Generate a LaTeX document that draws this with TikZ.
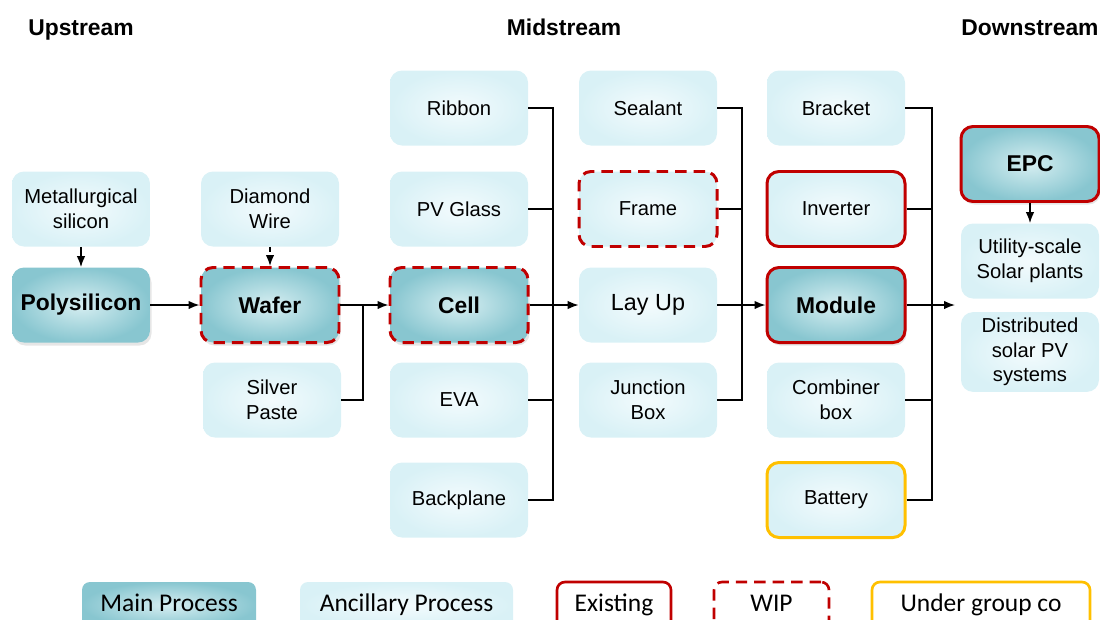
\documentclass[tikz,border=0pt]{standalone}
\usepackage{fontspec}
\setmainfont{Liberation Sans}
\newfontfamily\legendfont{Carlito}
\usetikzlibrary{arrows.meta,shadows}
\definecolor{redc}{HTML}{C00000}
\definecolor{yelc}{HTML}{FFC000}
\definecolor{mainout}{HTML}{88C6D0}
\definecolor{mainin}{HTML}{D6EEF1}
\definecolor{ancout}{HTML}{D9F1F6}
\definecolor{ancin}{HTML}{F3FBFD}

\begin{document}
\begin{tikzpicture}[font=\fontsize{11.5}{14}\selectfont]
\tikzstyle{op}=[->,>={Latex[length=0.22cm,width=0.17cm]},line width=0.85pt]
\tikzstyle{line}=[line width=0.85pt]
\tikzstyle{anc}=[rounded corners=0.24cm,minimum width=2.76cm,minimum height=1.5cm,align=center,inner color=ancin,outer color=ancout]
\tikzstyle{mainfill}=[inner color=mainin,outer color=mainout]
\tikzstyle{main}=[anc,mainfill,font=\fontsize{13}{16}\selectfont\bfseries,drop shadow={opacity=0.2,shadow xshift=0.03cm,shadow yshift=-0.06cm}]
\tikzstyle{exist}=[draw=redc,line width=1.7pt]
\tikzstyle{wip}=[exist,dash pattern=on 6.5pt off 4pt]
\tikzstyle{under}=[draw=yelc,line width=1.7pt]
\tikzstyle{head}=[font=\fontsize{13}{16}\selectfont\bfseries,text height=0.33cm,text depth=0.1cm]
\tikzstyle{legend}=[rounded corners=0.16cm,minimum height=0.92cm,text height=0.36cm,text depth=0.1cm,font=\legendfont\fontsize{14.5}{17}\selectfont]
\path[use as bounding box,clip] (0,0) rectangle (22,-12.38);

\node (h1) at (1.62,-0.6) [head]{Upstream};
\node (h2) at (11.28,-0.6) [head]{Midstream};
\node (h3) at (20.6,-0.6) [head]{Downstream};

\node (1) at (1.62,-4.18) [anc]{Metallurgical\\silicon};
\node (2) at (1.62,-6.1) [main]{Polysilicon};
\node (3) at (5.4,-4.18) [anc]{Diamond\\Wire};
\node (4) at (5.4,-6.1) [main,wip]{Wafer};
\node (5) at (5.44,-8.0) [anc]{Silver\\Paste};

\node (6) at (9.18,-2.16) [anc]{Ribbon};
\node (7) at (9.18,-4.18) [anc]{PV Glass};
\node (8) at (9.18,-6.1) [main,wip]{Cell};
\node (9) at (9.18,-8.0) [anc]{EVA};
\node (10) at (9.18,-10.0) [anc]{Backplane};

\node (11) at (12.96,-2.16) [anc]{Sealant};
\node (12) at (12.96,-4.18) [anc,wip]{Frame};
\node (13) at (12.96,-6.1) [anc,font=\fontsize{13.3}{16}\selectfont]{Lay Up};
\node (14) at (12.96,-8.0) [anc]{Junction\\Box};

\node (15) at (16.72,-2.16) [anc]{Bracket};
\node (16) at (16.72,-4.18) [anc,exist]{Inverter};
\node (17) at (16.72,-6.1) [main,exist]{Module};
\node (18) at (16.72,-8.0) [anc]{Combiner\\box};
\node (19) at (16.72,-10.0) [anc,under]{Battery};

\node (20) at (20.6,-3.28) [main,exist]{EPC};
\node (21) at (20.6,-5.22) [anc]{Utility-scale\\Solar plants};
\node (22) at (20.6,-7.04) [anc]{Distributed\\solar PV\\systems};

\coordinate (j1) at (7.26,-6.1);
\coordinate (j2) at (11.06,-6.1);
\coordinate (j3) at (14.84,-6.1);
\coordinate (j4) at (18.64,-6.1);
\coordinate (d) at (19.1,-6.1);

\draw[op] (1) -- (2);
\draw[op,dash pattern=on 3pt off 2pt] (3) -- (4);
\draw[op] (2) -- (4);
\draw[op] (4) -- (8);
\draw[line] (5.east) -| (j1);
\draw[line] (6.east) -| (j2); \draw[line] (10.east) -| (j2);
\draw[line] (7.east) -- (7.east -| j2); \draw[line] (9.east) -- (9.east -| j2);
\draw[op] (8) -- (13);
\draw[line] (11.east) -| (j3); \draw[line] (14.east) -| (j3);
\draw[line] (12.east) -- (12.east -| j3);
\draw[op] (13) -- (17);
\draw[line] (15.east) -| (j4); \draw[line] (19.east) -| (j4);
\draw[line] (16.east) -- (16.east -| j4); \draw[line] (18.east) -- (18.east -| j4);
\draw[op] (17) -- (d);
\draw[op] (20) -- (21);

\node (23) at (3.38,-12.1) [legend,mainfill,minimum width=3.48cm]{Main Process};
\node (24) at (8.13,-12.1) [legend,inner color=ancin,outer color=ancout,minimum width=4.26cm]{Ancillary Process};
\node (25) at (12.28,-12.1) [legend,exist,line width=1.5pt,minimum width=2.28cm]{Existing};
\node (26) at (15.43,-12.1) [legend,wip,line width=1.5pt,minimum width=2.3cm]{WIP};
\node (27) at (19.62,-12.1) [legend,under,line width=1.5pt,minimum width=4.36cm]{Under group co};
\end{tikzpicture}
\end{document}
